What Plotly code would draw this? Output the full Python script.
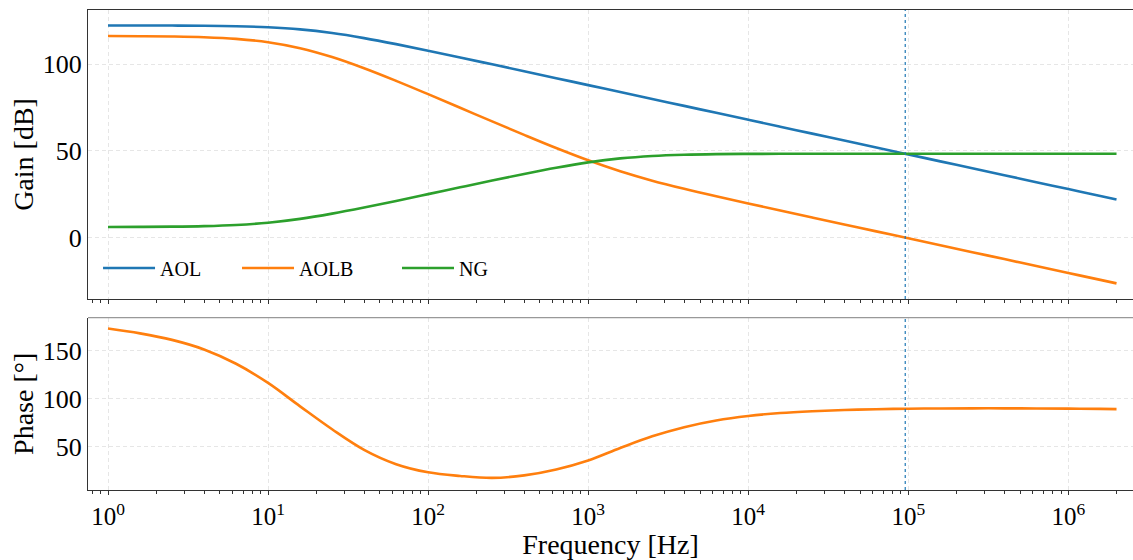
import plotly.graph_objects as go
from plotly.subplots import make_subplots

# ---- data (5 samples per decade) ----
freq_hz = [1, 1.585, 2.512, 3.981, 6.31, 10, 15.85, 25.12, 39.81, 63.1,
           100, 158.5, 251.2, 398.1, 631, 1000, 1585, 2512, 3981, 6310,
           1e4, 1.585e4, 2.512e4, 3.981e4, 6.31e4, 1e5, 1.585e5, 2.512e5,
           3.981e5, 6.31e5, 1e6, 1.585e6, 2e6]
aol_db = [122.39, 122.37, 122.32, 122.21, 121.95, 121.34, 120.11, 118.01, 115.08,
          111.60, 107.82, 103.91, 99.95, 95.97, 91.97, 87.97, 83.97, 79.97, 75.98,
          71.98, 67.98, 63.98, 59.98, 55.98, 51.98, 47.98, 43.98, 39.98, 35.98,
          31.98, 27.98, 23.98, 21.96]
ng_db = [6.13, 6.19, 6.31, 6.61, 7.28, 8.61, 10.82, 13.84, 17.37, 21.17, 25.07,
         29.01, 32.92, 36.73, 40.30, 43.39, 45.69, 47.11, 47.83, 48.16, 48.29,
         48.35, 48.37, 48.38, 48.38, 48.38, 48.38, 48.38, 48.38, 48.38, 48.38,
         48.38, 48.38]
aolb_db = [116.26, 116.18, 116.01, 115.60, 114.67, 112.73, 109.29, 104.17, 97.71,
           90.43, 82.75, 74.90, 67.03, 59.24, 51.67, 44.58, 38.28, 32.86, 28.15,
           23.82, 19.69, 15.63, 11.61, 7.60, 3.60, -0.40, -4.40, -8.40, -12.40,
           -16.40, -20.40, -24.40, -26.42]
phase_deg = [173.3, 168.3, 161.5, 151.5, 136.5, 116.5, 92.0, 68.0, 46.5, 31.5,
             23.0, 19.2, 17.2, 19.8, 26.0, 35.4, 48.4, 60.6, 70.2, 77.2, 81.9,
             85.0, 86.9, 88.2, 89.0, 89.5, 89.8, 89.9, 89.9, 89.8, 89.6, 89.3, 89.1]
crossover_hz = 95700

x_tickvals = [1, 10, 100, 1e3, 1e4, 1e5, 1e6]
x_ticktext = ["10<sup>%d</sup>" % i for i in range(7)]
gain_ticks = [0, 50, 100]
phase_ticks = [50, 100, 150]

gain_range = [-35.4, 131.3]
phase_range = [4.5, 184.7]
x_log_range = [-0.125, 6.404]

colors = {"AOL": "#1f77b4", "AOLB": "#ff7f0e", "NG": "#2ca02c"}
FONT = "Liberation Serif"
GRID = "#e6e6e6"

fig = make_subplots(rows=2, cols=1, shared_xaxes=False, vertical_spacing=0.04)

for name, vals, leg in [("AOL", aol_db, "legend"), ("AOLB", aolb_db, "legend2"),
                        ("NG", ng_db, "legend3")]:
    fig.add_trace(go.Scatter(x=freq_hz, y=vals, mode="lines", name=name,
                             line=dict(color=colors[name], width=2.6, shape="spline",
                                       smoothing=1.0),
                             legend=leg), row=1, col=1)

fig.add_trace(go.Scatter(x=freq_hz, y=phase_deg, mode="lines", name="phase",
                         line=dict(color=colors["AOLB"], width=2.6, shape="spline",
                                   smoothing=1.0),
                         showlegend=False), row=2, col=1)

# crossover marker lines
fig.add_trace(go.Scatter(x=[crossover_hz, crossover_hz], y=gain_range, mode="lines",
                         line=dict(color="#1f77b4", width=1.2, dash="dot"),
                         showlegend=False, hoverinfo="skip"), row=1, col=1)
fig.add_trace(go.Scatter(x=[crossover_hz, crossover_hz], y=phase_range, mode="lines",
                         line=dict(color="#1f77b4", width=1.2, dash="dot"),
                         showlegend=False, hoverinfo="skip"), row=2, col=1)

minor_vals = [k * 10 ** e for e in range(-1, 7) for k in range(2, 10)]
minor_vals = [v for v in minor_vals if 0.75 <= v <= 2.6e6]

axis_common = dict(
    type="log", range=x_log_range, showgrid=True, gridcolor=GRID,
    griddash="4px,3px", gridwidth=0.8, tickvals=x_tickvals, ticks="outside",
    ticklen=4, tickwidth=1, tickcolor="#333", showline=True, linecolor="#333",
    linewidth=1.2, zeroline=False,
    minor=dict(tickvals=minor_vals, ticks="outside", ticklen=2.5, tickwidth=0.8,
               tickcolor="#333", showgrid=False),
)

fig.update_xaxes(**axis_common, mirror=True, showticklabels=False, row=1, col=1)
fig.update_xaxes(**axis_common, mirror=False, ticktext=x_ticktext,
                 tickfont=dict(family=FONT, size=25, color="black"),
                 title=dict(text="Frequency [Hz]", font=dict(family=FONT, size=28, color="black"),
                            standoff=4),
                 row=2, col=1)

yax_common = dict(showgrid=True, gridcolor=GRID, griddash="4px,3px", gridwidth=0.8,
                  ticks="", showline=True, linecolor="#333", linewidth=1.2,
                  zeroline=False, tickfont=dict(family=FONT, size=26, color="black"),
                  ticklabelstandoff=0)
fig.update_yaxes(**yax_common, range=gain_range, tickvals=gain_ticks,
                 title=dict(text="Gain [dB]", font=dict(family=FONT, size=28, color="black"),
                            standoff=0),
                 row=1, col=1)
fig.update_yaxes(**yax_common, range=phase_range, tickvals=phase_ticks,
                 title=dict(text="Phase [°]", font=dict(family=FONT, size=28, color="black"),
                            standoff=0),
                 row=2, col=1)

# domains to match reference placement
fig.update_layout(
    xaxis=dict(domain=[0, 1]), xaxis2=dict(domain=[0, 1]),
    yaxis=dict(domain=[0.398, 1.0]), yaxis2=dict(domain=[0.0, 0.359]),
)

# lighter top border of lower panel
fig.add_shape(type="line", xref="x2 domain", yref="y2 domain", x0=0, x1=1, y0=1, y1=1,
              line=dict(color="#999999", width=1.2))

leg_common = dict(orientation="h", yanchor="middle", y=0.4625, xanchor="left",
                  bgcolor="rgba(0,0,0,0)", font=dict(family=FONT, size=20, color="black"),
                  itemwidth=52)
fig.update_layout(
    legend=dict(**leg_common, x=0.0096),
    legend2=dict(**leg_common, x=0.1426),
    legend3=dict(**leg_common, x=0.2957),
)

fig.update_layout(
    width=1133, height=560,
    margin=dict(l=88, r=0, t=10, b=70),
    paper_bgcolor="white", plot_bgcolor="white",
    font=dict(family=FONT, color="black"),
)

fig.write_html("out.html")
